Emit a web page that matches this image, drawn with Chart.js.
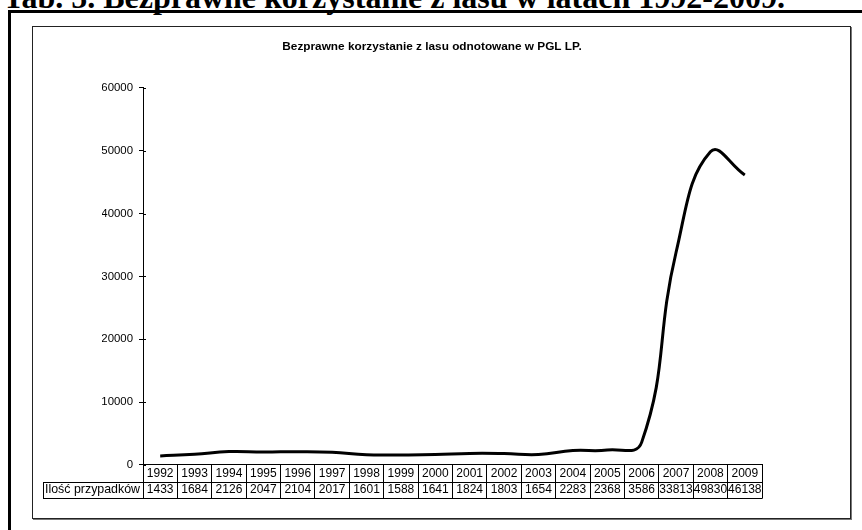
<!DOCTYPE html>
<html><head><meta charset="utf-8">
<script src="https://cdn.jsdelivr.net/npm/chart.js@4"></script>
<style>
html,body{margin:0;padding:0;width:862px;height:530px;overflow:hidden;background:#fff;}
#heading{position:absolute;left:3px;top:-19px;font:bold 32px 'Liberation Serif','Times New Roman',serif;line-height:32px;white-space:nowrap;color:#000;}
#outer{position:absolute;left:8px;top:10px;width:900px;height:600px;border-left:3px solid #000;border-top:3px solid #000;}
#inner{position:absolute;left:32px;top:26px;width:817px;height:491px;border:1px solid #222;box-shadow:1px 1px 0 #777;}
#wrap{position:absolute;left:33px;top:0;width:798px;height:530px;}
</style></head>
<body>
<div id="heading">Tab. 5. Bezprawne korzystanie z lasu w latach 1992-2009.</div>
<div id="outer"></div>
<div id="inner"></div>
<div id="wrap"><canvas id="c" width="798" height="530"></canvas></div>
<script>
const years = ['1992','1993','1994','1995','1996','1997','1998','1999','2000','2001','2002','2003','2004','2005','2006','2007','2008','2009'];
const cases = [1433,1684,2126,2047,2104,2017,1601,1588,1641,1824,1803,1654,2283,2368,3586,33813,49830,46138];
const rowLabel = 'Ilość przypadków';
const chartTitle = 'Bezprawne korzystanie z lasu odnotowane w PGL LP.';
const yMin = 0, yMax = 60000, yStep = 10000;

const FONT = "Arial, 'Liberation Sans', sans-serif";
const ROW_H = 16.7;
const TABLE_FS = 12;

const tablePlugin = {
  id: 'dataTable',
  afterDraw(chart) {
    const xs = chart.scales.x, ys = chart.scales.y, ctx = chart.ctx;
    const top = xs.top;
    const left = chart.chartArea.left - 100;
    const right = chart.chartArea.right;
    ctx.save();
    ctx.strokeStyle = '#000'; ctx.lineWidth = 1;
    ctx.beginPath();
    [top + ROW_H, top + 2 * ROW_H].forEach(y => {
      const yy = Math.round(y) + 0.5;
      ctx.moveTo(left, yy); ctx.lineTo(right + 0.5, yy);
    });
    ctx.moveTo(left + 0.5, Math.round(top + ROW_H) + 0.5);
    ctx.lineTo(left + 0.5, Math.round(top + 2 * ROW_H) + 0.5);
    ys.ticks.forEach(t => {
      const py = Math.round(ys.getPixelForValue(t.value)) + 0.5;
      ctx.moveTo(chart.chartArea.left, py); ctx.lineTo(chart.chartArea.left + 3, py);
    });
    ctx.stroke();
    ctx.fillStyle = '#000';
    ctx.font = '12.4px ' + FONT;
    ctx.textBaseline = 'middle'; ctx.textAlign = 'left';
    ctx.fillText(rowLabel, left + 2, top + 1.5 * ROW_H);
    ctx.restore();
  }
};

new Chart(document.getElementById('c'), {
  type: 'line',
  data: {
    labels: years,
    datasets: [{
      data: cases,
      borderColor: '#000',
      borderWidth: 3,
      tension: 0.45,
      pointRadius: 0,
      fill: false
    }]
  },
  options: {
    responsive: false,
    animation: false,
    devicePixelRatio: 1,
    layout: { padding: { left: 69, right: 69, top: 0, bottom: 31.7 } },
    plugins: {
      legend: { display: false },
      tooltip: { enabled: false },
      title: {
        display: true, text: chartTitle, color: '#000',
        font: { family: FONT, size: 11.8, weight: 'bold' },
        padding: { top: 39.4, bottom: 34.4 }
      }
    },
    scales: {
      x: {
        type: 'category',
        offset: true,
        grid: { offset: true, drawOnChartArea: false, drawTicks: true, tickLength: 2 * ROW_H, color: '#000', lineWidth: 1 },
        border: { color: '#000', width: 1 },
        ticks: {
          autoSkip: false, maxRotation: 0, minRotation: 0,
          padding: -2 * ROW_H, color: '#000',
          font: { family: FONT, size: TABLE_FS, lineHeight: ROW_H / TABLE_FS },
          callback: (v, i) => [years[i], String(cases[i])]
        },
        afterFit: s => { s.height = 2 * ROW_H; }
      },
      y: {
        min: yMin, max: yMax,
        grid: { drawOnChartArea: false, tickLength: 4, color: '#000' },
        border: { color: '#000', width: 1 },
        ticks: { stepSize: yStep, color: '#000', padding: 6, font: { family: FONT, size: 11.4 }, callback: v => String(v) },
        afterFit: s => { s.width = 41; }
      }
    }
  },
  plugins: [tablePlugin]
});
</script>
</body></html>
